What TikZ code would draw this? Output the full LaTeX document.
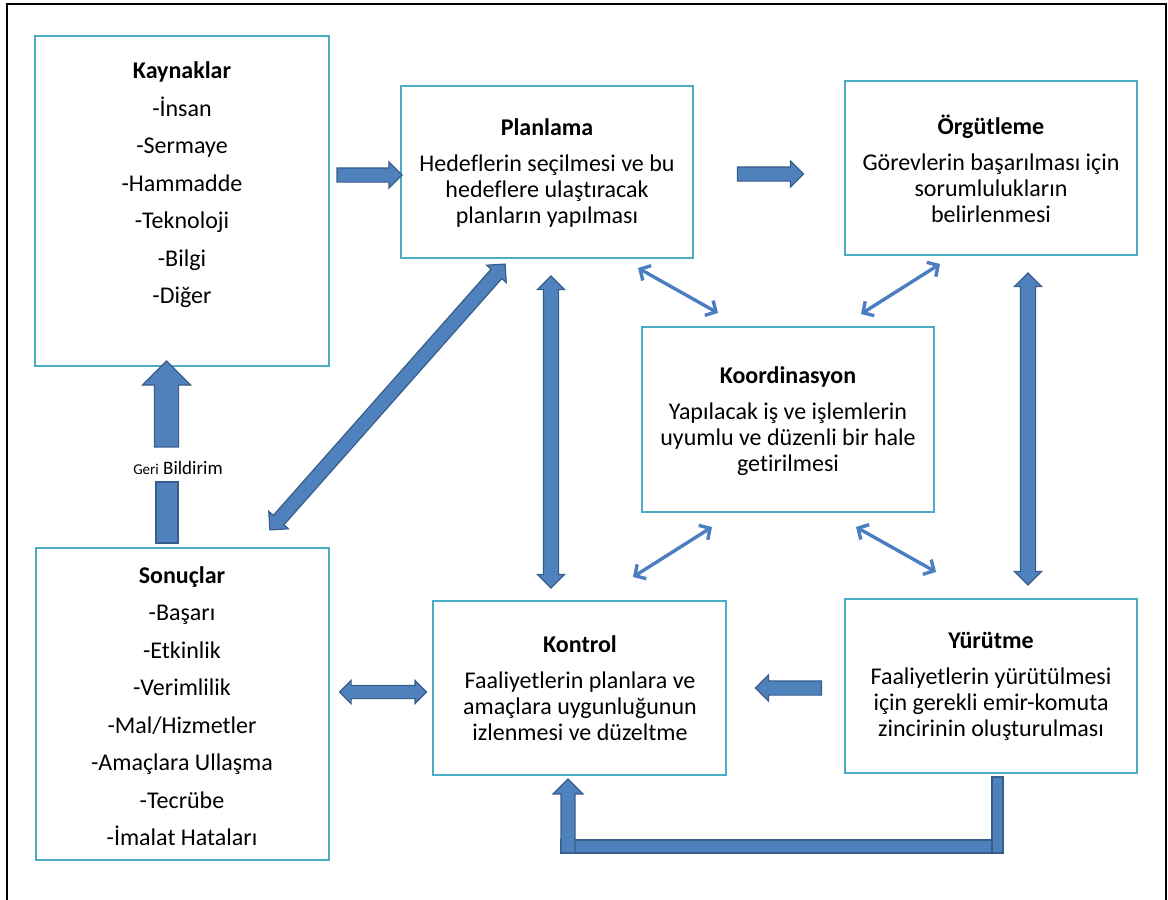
\documentclass[tikz,border=0pt]{standalone}
\usepackage{fontspec}
\setmainfont{Carlito}[Ligatures=NoCommon]
\usetikzlibrary{shapes.arrows,arrows.meta,calc}
\definecolor{boxline}{RGB}{75,172,198}
\definecolor{arrowfill}{RGB}{79,129,189}
\definecolor{arrowborder}{RGB}{56,93,138}
\definecolor{thinarrow}{RGB}{74,126,193}
\begin{document}
\begin{tikzpicture}[x=1pt,y=-1pt,
  box/.style={draw=boxline,line width=2.8pt,fill=white,inner sep=0pt},
  txt/.style={align=center,inner sep=0pt,font=\fontsize{24}{26}\selectfont},
  lst/.style={align=center,inner sep=0pt,font=\fontsize{24}{37.5}\selectfont},
  blk/.style={draw=arrowborder,fill=arrowfill,line width=1.2pt,inner sep=0pt,minimum width=0pt},
  sarrow/.style={blk,single arrow,inner ysep=6.5pt,single arrow head extend=6pt},
  darrow/.style={blk,double arrow,inner ysep=6.5pt,double arrow head extend=6pt},
  thin/.style={draw=thinarrow,line width=3.4pt,{Straight Barb[length=8pt,width=17pt]}-{Straight Barb[length=8pt,width=17pt]}}
]
\useasboundingbox (0,0) rectangle (1168,900);
% frame
\draw[line width=2pt,black] (6.5,900) -- (6.5,4) -- (1166,4) -- (1166,900);

% boxes
\node[box,minimum width=294,minimum height=330] (kay) at (182,201) {};
\node[box,minimum width=292,minimum height=172] (pla) at (547,172) {};
\node[box,minimum width=292,minimum height=174] (org) at (991,168) {};
\node[box,minimum width=292,minimum height=185] (koo) at (788,419.5) {};
\node[box,minimum width=293,minimum height=312] (son) at (182.5,704) {};
\node[box,minimum width=293,minimum height=174] (kon) at (579.5,688) {};
\node[box,minimum width=292,minimum height=174] (yur) at (991,686) {};

% texts
\node[lst] (kayt) at (182,185) {\textbf{Kaynaklar}\\-İnsan\\-Sermaye\\-Hammadde\\-Teknoloji\\-Bilgi\\-Diğer};
\node[lst] (sont) at (182,706) {\textbf{Sonuçlar}\\-Başarı\\-Etkinlik\\-Verimlilik\\-Mal/Hizmetler\\-Amaçlara Ullaşma\\-Tecrübe\\-İmalat Hataları};
\node[txt] (plat) at (547,173) {\textbf{Planlama}\\[10pt]Hedeflerin seçilmesi ve bu\\hedeflere ulaştıracak\\planların yapılması};
\node[txt] (orgt) at (991,169) {\textbf{Örgütleme}\\[10pt]Görevlerin başarılması için\\sorumlulukların\\belirlenmesi};
\node[txt] (koot) at (788,421) {\textbf{Koordinasyon}\\[10pt]Yapılacak iş ve işlemlerin\\uyumlu ve düzenli bir hale\\getirilmesi};
\node[txt] (kont) at (580,688.5) {\textbf{Kontrol}\\[10pt]Faaliyetlerin planlara ve\\amaçlara uygunluğunun\\izlenmesi ve düzeltme};
\node[txt] (yurt) at (991,686.5) {\textbf{Yürütme}\\[10pt]Faaliyetlerin yürütülmesi\\için gerekli emir-komuta\\zincirinin oluşturulması};

% block arrows
\node[sarrow,minimum height=65pt] (a1) at (366,175) {};
\node[sarrow,minimum height=66pt] (a2) at (767,174) {};
\node[sarrow,minimum height=66pt,rotate=180] (a3) at (792,688) {};
\node[darrow,minimum height=87pt,inner ysep=6pt,double arrow head extend=5pt] (a4) at (383,692) {};
\node[darrow,minimum height=312pt,inner ysep=7pt,rotate=90] (a5) at (551,432) {};
\node[darrow,minimum height=312pt,inner ysep=7pt,rotate=90] (a6) at (1028,429) {};
\node[darrow,minimum height=355pt,rotate=48.5] (a7) at (387.5,397) {};

% feedback (Geri Bildirim)
\node[blk,single arrow,inner ysep=11.5pt,single arrow head extend=12pt,minimum height=86pt,rotate=90] (gb1) at (166.5,410) {};
\node[blk,minimum width=22pt,minimum height=61pt] (gb2) at (167,512.5) {};
\node[inner sep=0pt,font=\fontsize{19}{22}\selectfont] (gbt) at (178,468) {{\fontsize{15}{17}\selectfont Geri} Bildirim};

% bottom loop Yürütme -> Kontrol
\draw[blk] (561,840) rectangle (1003,853);
\draw[blk] (992,777) rectangle (1003,853);
\draw[blk] (561,853) -- (561,794) -- (553,794) -- (568,779) -- (583,794) -- (575,794) -- (575,853) -- cycle;

% thin double arrows
\coordinate (t1a) at (638,268); \coordinate (t1b) at (718,313);
\coordinate (t2a) at (940,264); \coordinate (t2b) at (861,314);
\coordinate (t3a) at (712,527); \coordinate (t3b) at (633,577);
\coordinate (t4a) at (856,527); \coordinate (t4b) at (936,572);
\draw[thin] (t1a) -- (t1b);
\draw[thin] (t2a) -- (t2b);
\draw[thin] (t3a) -- (t3b);
\draw[thin] (t4a) -- (t4b);
\end{tikzpicture}
\end{document}
